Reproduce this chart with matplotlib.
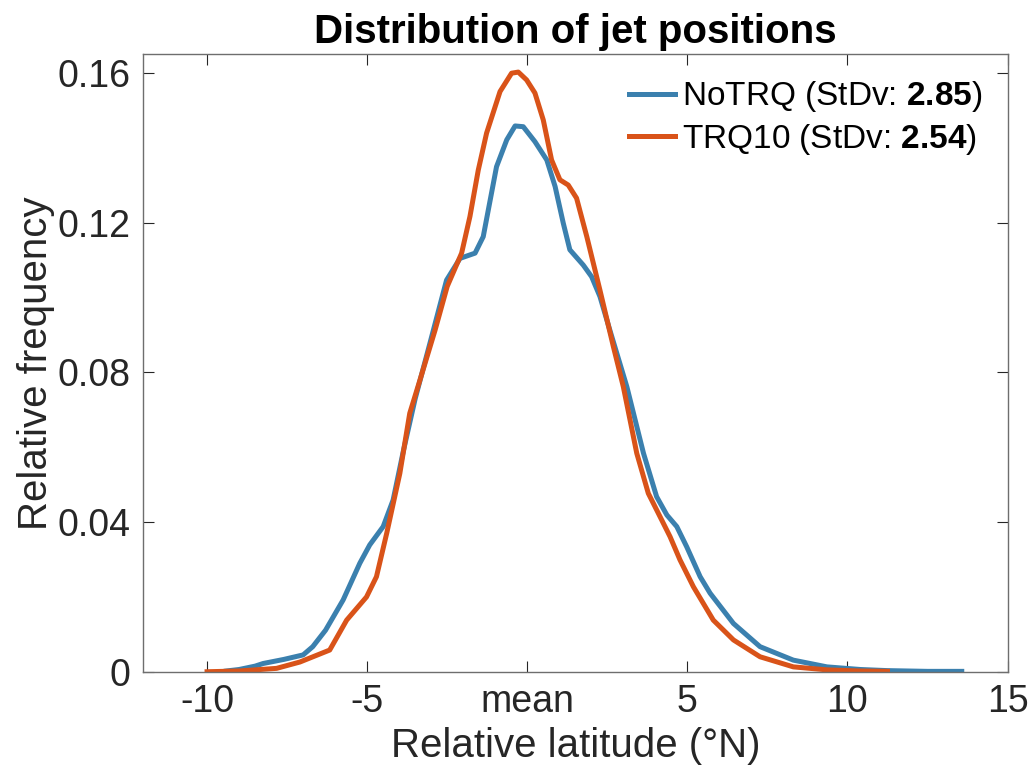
import matplotlib
matplotlib.use("Agg")
import matplotlib.pyplot as plt

plt.rcParams['font.family'] = ['Liberation Sans', 'DejaVu Sans']
plt.rcParams['mathtext.fontset'] = 'custom'
plt.rcParams['mathtext.rm'] = 'Liberation Sans'
plt.rcParams['mathtext.bf'] = 'Liberation Sans:bold'

# NoTRQ distribution
x_notrq = [-9.4, -9.0, -8.5, -8.25, -7.6, -7.0, -6.7, -6.3, -5.75, -5.23, -4.92,
           -4.5, -4.19, -3.87, -3.5, -3.04, -2.52, -2.1, -1.63, -1.375, -0.96,
           -0.64, -0.38, -0.125, 0.24, 0.61, 0.87, 1.125, 1.33, 1.75, 2.01, 2.27,
           2.58, 3.11, 3.63, 4.04, 4.36, 4.67, 4.98, 5.4, 5.71, 6.44, 7.27, 8.31,
           9.36, 10.4, 11.25, 12.5, 13.57]
y_notrq = [0.0002, 0.0006, 0.0015, 0.0022, 0.0033, 0.0045, 0.0067, 0.0111, 0.0192,
           0.029, 0.0339, 0.0388, 0.0459, 0.059, 0.073, 0.0878, 0.1047, 0.1105,
           0.1119, 0.1163, 0.135, 0.1422, 0.1459, 0.1457, 0.1417, 0.1368, 0.1297,
           0.1199, 0.1128, 0.1087, 0.1056, 0.1003, 0.0913, 0.0762, 0.0584, 0.0468,
           0.0419, 0.0388, 0.0334, 0.0254, 0.021, 0.0129, 0.0067, 0.0031, 0.0013,
           0.0006, 0.0003, 0.0001, 0.0001]

# TRQ10 distribution
x_trq10 = [-10.0, -9.0, -7.83, -7.1, -6.17, -5.64, -5.02, -4.71, -4.39, -3.98,
           -3.67, -3.35, -2.88, -2.5, -2.05, -1.79, -1.53, -1.27, -0.85, -0.49,
           -0.28, -0.02, 0.24, 0.5, 0.76, 1.02, 1.28, 1.54, 1.86, 2.27, 2.69, 3.0,
           3.42, 3.78, 4.15, 4.46, 4.77, 5.19, 5.81, 6.44, 7.27, 8.31, 9.36, 10.4,
           11.25]
y_trq10 = [0.0, 0.0002, 0.0009, 0.0026, 0.0058, 0.0138, 0.020, 0.0254, 0.037, 0.053,
           0.0691, 0.078, 0.0913, 0.103, 0.1119, 0.1217, 0.1341, 0.144, 0.1551, 0.160,
           0.1603, 0.1582, 0.1547, 0.1475, 0.1368, 0.1315, 0.1301, 0.1266, 0.1163,
           0.102, 0.0869, 0.0762, 0.0584, 0.0477, 0.0414, 0.0361, 0.0299, 0.0227,
           0.0138, 0.0085, 0.004, 0.0013, 0.0005, 0.0002, 0.0001]

stdv = {"NoTRQ": 2.85, "TRQ10": 2.54}

xticks = [-10, -5, 0, 5, 10, 15]
xticklabels = ["-10", "-5", "mean", "5", "10", "15"]
yticks = [0, 0.04, 0.08, 0.12, 0.16]
yticklabels = ["0", "0.04", "0.08", "0.12", "0.16"]

fig = plt.figure(figsize=(10.32, 7.73), dpi=100)
ax = fig.add_axes([0.1386, 0.131, 0.8377, 0.7985])

ax.plot(x_notrq, y_notrq, color="#3b80ae", lw=3.6,
        label=r"NoTRQ (StDv: $\mathbf{%.2f}$)" % stdv["NoTRQ"])
ax.plot(x_trq10, y_trq10, color="#d95319", lw=3.6,
        label=r"TRQ10 (StDv: $\mathbf{%.2f}$)" % stdv["TRQ10"])

ax.set_xlim(-12, 15)
ax.set_ylim(0, 0.165)
ax.set_xticks(xticks)
ax.set_xticklabels(xticklabels)
ax.set_yticks(yticks)
ax.set_yticklabels(yticklabels)

ax.tick_params(direction="in", length=8, width=0.8, top=True, right=True,
               labelsize=27, colors="#262626", pad=9)
for s in ax.spines.values():
    s.set_color("#6e6e6e")
    s.set_linewidth(1.0)

ax.set_xlabel("Relative latitude (°N)", fontsize=29, color="#262626", labelpad=5)
ax.set_ylabel("Relative frequency", fontsize=29, color="#262626", labelpad=2)
ax.set_title("Distribution of jet positions", fontsize=29, fontweight="bold", pad=8)

leg = ax.legend(loc="upper right", frameon=False, fontsize=24, handlelength=1.4,
                handletextpad=0.2, labelspacing=0.22, borderaxespad=0.35)

fig.savefig("out.png", dpi=100)
